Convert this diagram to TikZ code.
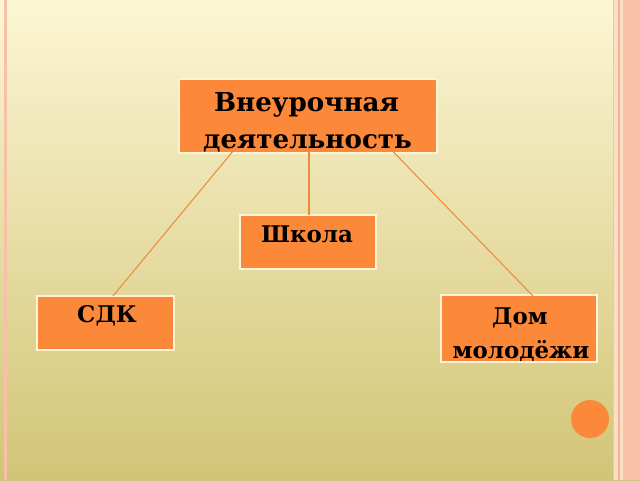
\documentclass[tikz,border=0pt]{standalone}
\usepackage{fontspec}
\setmainfont{DejaVu Serif}
\definecolor{bgtop}{RGB}{252,246,212}
\definecolor{bgbot}{RGB}{210,196,118}
\definecolor{stripe}{RGB}{249,192,168}
\definecolor{stripedk}{RGB}{242,176,150}
\definecolor{stripelt}{RGB}{252,222,196}
\definecolor{boxor}{RGB}{252,136,58}
\definecolor{boxedge}{RGB}{255,244,214}
\definecolor{lineor}{RGB}{236,140,62}
\tikzset{
  boxnode/.style={rectangle, fill=boxor, draw=boxedge, line width=0.9pt, inner sep=0pt, outer sep=0pt, anchor=north west},
  lbl/.style={anchor=base, inner sep=0pt, font=\fontsize{17.2pt}{20pt}\selectfont\bfseries, text=black},
  biglbl/.style={lbl, font=\fontsize{19.6pt}{23pt}\selectfont\bfseries},
  link/.style={draw=lineor, line width=0.8pt},
}
\begin{document}
\begin{tikzpicture}[x=0.75pt,y=-0.75pt]
\useasboundingbox (0,0) rectangle (640,480);
% background
\shade[top color=bgtop, bottom color=bgbot] (0,0) rectangle (640,480);
\fill[stripe] (4,0) rectangle (7,480);
\fill[stripe] (612.5,0) rectangle (614,480);
\fill[stripelt] (614,0) rectangle (618,480);
\fill[stripedk] (618,0) rectangle (620,480);
\fill[stripelt] (620,0) rectangle (623,480);
\fill[stripe] (623,0) rectangle (640,480);
% boxes
\node[boxnode, minimum width=193.5pt, minimum height=55.5pt] (vneur) at (179,79) {};
\node[boxnode, minimum width=102pt, minimum height=40.5pt] (shkola) at (240,215) {};
\node[boxnode, minimum width=102.75pt, minimum height=40.5pt] (sdk) at (37,296) {};
\node[boxnode, minimum width=117pt, minimum height=50.25pt] (dom) at (441,295) {};
% connector ends
\coordinate (s1) at (248,133);
\coordinate (s2) at (309,133);
\coordinate (s3) at (377,135);
\coordinate (e1) at (113,296);
\coordinate (e2) at (309,215);
\coordinate (e3) at (533,296);
\draw[link] (s1) -- (e1);
\draw[link] (s2) -- (e2);
\draw[link] (s3) -- (e3);
% labels
\node[biglbl] (t1) at (306.5,111.5) {Внеурочная};
\node[biglbl] (t2) at (307.5,148) {деятельность};
\node[lbl] (t3) at (307,242.5) {Школа};
\node[lbl] (t4) at (107,322) {СДК};
\node[lbl] (t5) at (520,324) {Дом};
\node[lbl] (t6) at (521,358) {молодёжи};
% circle
\fill[boxor] (590,419) circle[radius=14.25pt];
\end{tikzpicture}
\end{document}
